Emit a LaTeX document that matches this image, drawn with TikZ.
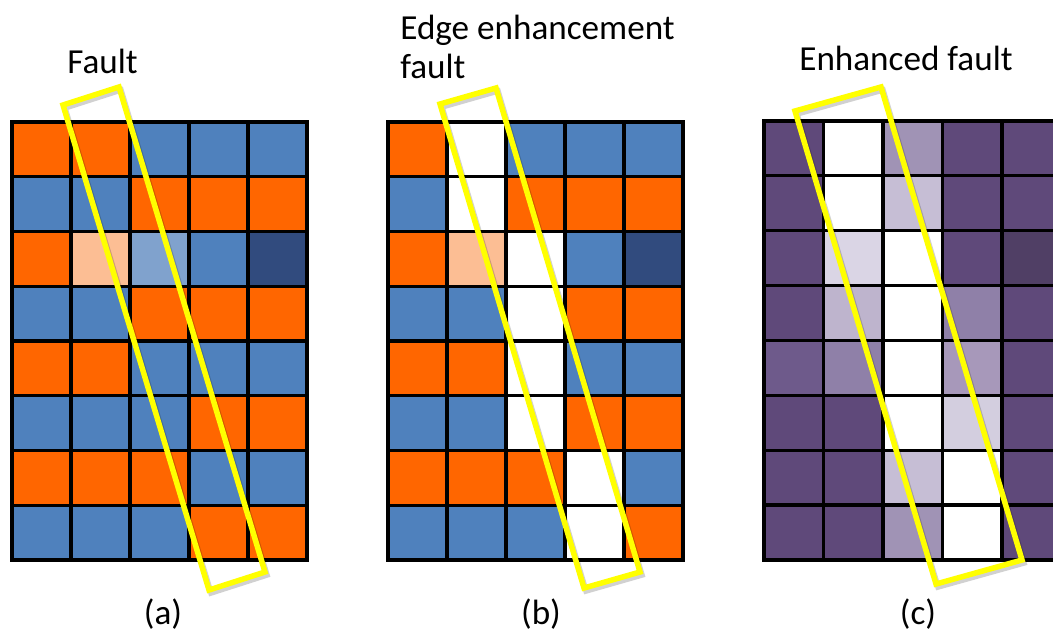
\documentclass[tikz,border=0pt]{standalone}
\usepackage{fontspec}
\setmainfont{Carlito}

% tile colours
\definecolor{tO}{RGB}{255,102,0}
\definecolor{tB}{RGB}{79,129,189}
\definecolor{tLO}{RGB}{252,190,148}
\definecolor{tLB}{RGB}{128,162,205}
\definecolor{tDB}{RGB}{49,75,126}
\definecolor{tW}{RGB}{255,255,255}
\definecolor{tP}{RGB}{95,73,122}
\definecolor{tPD}{RGB}{80,63,101}
\definecolor{tP1}{RGB}{160,147,181}
\definecolor{tP2}{RGB}{198,190,213}
\definecolor{tP3}{RGB}{218,213,229}
\definecolor{tP4}{RGB}{190,180,205}
\definecolor{tP5}{RGB}{143,128,168}
\definecolor{tP6}{RGB}{110,90,139}
\definecolor{tP7}{RGB}{167,152,186}
\definecolor{tP8}{RGB}{211,206,223}
\definecolor{faultyellow}{RGB}{255,255,0}

\begin{document}
\begin{tikzpicture}[x=0.02cm,y=-0.02cm,
	cell/.style={draw=black,line width=0.065cm},
	faultbox/.style={draw=faultyellow,line width=0.11cm,line join=miter},
	boxshadow/.style={draw=black,opacity=0.18,line width=0.11cm,line join=miter,shift={(2,3)}},
	caption/.style={font=\fontsize{20}{19.4}\selectfont,inner sep=0pt}]
	\useasboundingbox (0,0) rectangle (1053,642);
	\clip (0,0) rectangle (1053,642);

	% (a) original section
	\foreach \cols [count=\r from 0] in {{tO,tO,tB,tB,tB},{tB,tB,tO,tO,tO},{tO,tLO,tLB,tB,tDB},{tB,tB,tO,tO,tO},
			{tO,tO,tB,tB,tB},{tB,tB,tB,tO,tO},{tO,tO,tO,tB,tB},{tB,tB,tB,tO,tO}}
		\foreach \c [count=\k from 0] in \cols
			\filldraw[cell,fill=\c] (12+\k*59,122+\r*54.75) rectangle ++(59,54.75);

	% (b) after edge enhancement
	\foreach \cols [count=\r from 0] in {{tO,tW,tB,tB,tB},{tB,tW,tO,tO,tO},{tO,tLO,tW,tB,tDB},{tB,tB,tW,tO,tO},
			{tO,tO,tW,tB,tB},{tB,tB,tW,tO,tO},{tO,tO,tO,tW,tB},{tB,tB,tB,tW,tO}}
		\foreach \c [count=\k from 0] in \cols
			\filldraw[cell,fill=\c] (388+\k*59,122+\r*54.75) rectangle ++(59,54.75);

	% (c) enhanced fault
	\foreach \cols [count=\r from 0] in {{tP,tW,tP1,tP,tP},{tP,tW,tP2,tP,tP},{tP,tP3,tW,tP,tPD},{tP,tP4,tW,tP5,tP},
			{tP6,tP5,tW,tP7,tP},{tP,tP,tW,tP8,tP},{tP,tP,tP2,tW,tP},{tP,tP,tP1,tW,tP}}
		\foreach \c [count=\k from 0] in \cols
			\filldraw[cell,fill=\c] (764+\k*59.5,121+\r*54.87) rectangle ++(59.5,54.87);

	% fault strips
	\draw[boxshadow] (63,105) -- (119,87) -- (265,572) -- (209,590) -- cycle;
	\draw[faultbox] (63,105) -- (119,87) -- (265,572) -- (209,590) -- cycle;
	\draw[boxshadow] (440,104) -- (496,88) -- (640,572) -- (584,588) -- cycle;
	\draw[faultbox] (440,104) -- (496,88) -- (640,572) -- (584,588) -- cycle;
	\draw[boxshadow] (795,111) -- (881,87) -- (1022,560) -- (936,584) -- cycle;
	\draw[faultbox] (795,111) -- (881,87) -- (1022,560) -- (936,584) -- cycle;

	% titles
	\node[caption,anchor=base west] (titleA) at (67,73) {Fault};
	\node[caption,anchor=base west] (titleB) at (400,40) {Edge enhancement};
	\node[caption,anchor=base west] (titleB2) at (400,78) {fault};
	\node[caption,anchor=base west] (titleC) at (799,71) {Enhanced fault};

	\node[caption] (capA) at (163,614) {(a)};
	\node[caption] (capB) at (541,614) {(b)};
	\node[caption] (capC) at (918,614) {(c)};
\end{tikzpicture}
\end{document}
